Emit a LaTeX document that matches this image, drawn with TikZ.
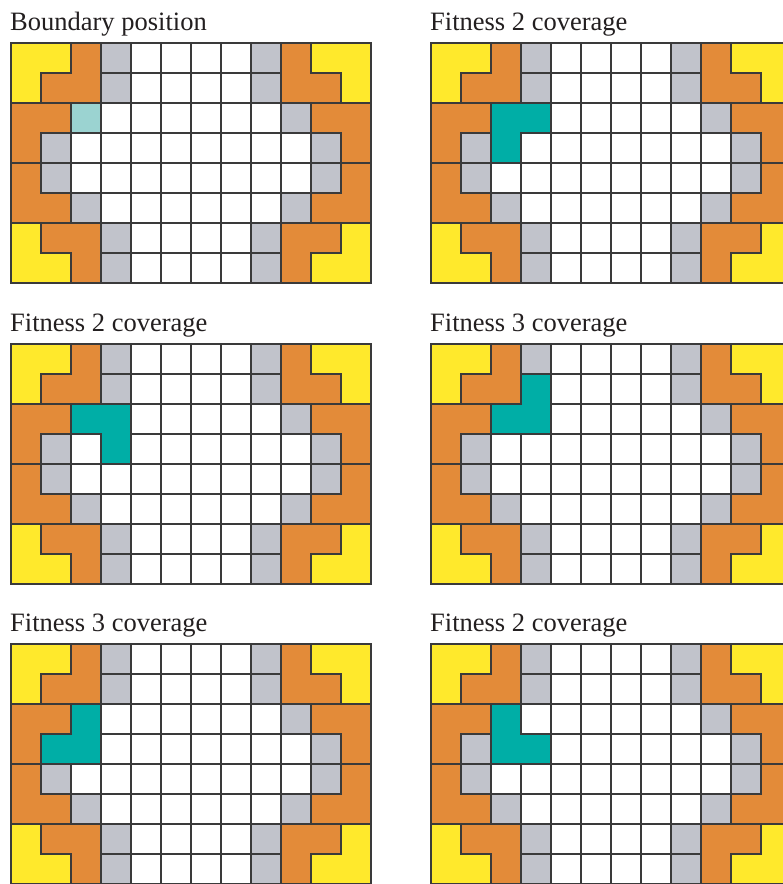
\documentclass[tikz,border=0pt]{standalone}
\usepackage{fontspec}
\setmainfont{Liberation Serif}
\definecolor{ylw}{HTML}{FFE92C}
\definecolor{org}{HTML}{E38B39}
\definecolor{gry}{HTML}{C1C3CB}
\definecolor{tel}{HTML}{00AEA6}
\definecolor{ltel}{HTML}{9BD3D1}
\definecolor{edge}{HTML}{3A3A3A}
\definecolor{ink}{HTML}{231F20}
\tikzset{
  cellline/.style={draw=edge, line width=1.2pt, line join=miter},
  whitecell/.style={cellline, fill=white},
  graycell/.style={cellline, fill=gry},
  yellowpiece/.style={cellline, fill=ylw},
  orangepiece/.style={cellline, fill=org},
  tealpiece/.style={cellline, fill=tel},
  lighttealcell/.style={cellline, fill=ltel},
  paneltitle/.style={anchor=base west, inner sep=0pt, text=ink, font=\fontsize{26.5}{30}\selectfont},
  boardframe/.style={shift={#1}, x=30pt, y=-30pt}
}
\newcommand\drawboard{%
  \foreach \c in {0,...,11}{\foreach \r in {0,...,7}{\draw[whitecell] (\c,\r) rectangle ++(1,1);}}
  \foreach \c/\r in {3/0,3/1,8/0,8/1,9/2,1/3,10/3,1/4,10/4,2/5,9/5,3/6,3/7,8/6,8/7}{\draw[graycell] (\c,\r) rectangle ++(1,1);}
  % corner yellow pieces
  \draw[yellowpiece] (0,0) -- (2,0) -- (2,1) -- (1,1) -- (1,2) -- (0,2) -- cycle;
  \draw[yellowpiece] (10,0) -- (12,0) -- (12,2) -- (11,2) -- (11,1) -- (10,1) -- cycle;
  \draw[yellowpiece] (0,6) -- (1,6) -- (1,7) -- (2,7) -- (2,8) -- (0,8) -- cycle;
  \draw[yellowpiece] (11,6) -- (12,6) -- (12,8) -- (10,8) -- (10,7) -- (11,7) -- cycle;
  % orange pieces
  \draw[orangepiece] (2,0) -- (3,0) -- (3,2) -- (1,2) -- (1,1) -- (2,1) -- cycle;
  \draw[orangepiece] (9,0) -- (10,0) -- (10,1) -- (11,1) -- (11,2) -- (9,2) -- cycle;
  \draw[orangepiece] (0,2) -- (2,2) -- (2,3) -- (1,3) -- (1,4) -- (0,4) -- cycle;
  \draw[orangepiece] (10,2) -- (12,2) -- (12,4) -- (11,4) -- (11,3) -- (10,3) -- cycle;
  \draw[orangepiece] (0,4) -- (1,4) -- (1,5) -- (2,5) -- (2,6) -- (0,6) -- cycle;
  \draw[orangepiece] (11,4) -- (12,4) -- (12,6) -- (10,6) -- (10,5) -- (11,5) -- cycle;
  \draw[orangepiece] (1,6) -- (3,6) -- (3,8) -- (2,8) -- (2,7) -- (1,7) -- cycle;
  \draw[orangepiece] (9,6) -- (11,6) -- (11,7) -- (10,7) -- (10,8) -- (9,8) -- cycle;
}
\begin{document}
\begin{tikzpicture}
  \useasboundingbox (0,0) rectangle (783pt,-884pt);
  \clip (0,0) rectangle (783pt,-884pt);
  \fill[white] (0,0) rectangle (783pt,-884pt);

  % titles
  \node[paneltitle] (t1) at (10pt,-30pt) {Boundary position};
  \node[paneltitle] (t2) at (430pt,-30pt) {Fitness 2 coverage};
  \node[paneltitle] (t3) at (10pt,-331pt) {Fitness 2 coverage};
  \node[paneltitle] (t4) at (430pt,-331pt) {Fitness 3 coverage};
  \node[paneltitle] (t5) at (10pt,-631pt) {Fitness 3 coverage};
  \node[paneltitle] (t6) at (430pt,-631pt) {Fitness 2 coverage};

  % panel 1
  \begin{scope}[boardframe={(11pt,-43pt)}]
    \drawboard
    \draw[lighttealcell] (2,2) rectangle (3,3);
  \end{scope}
  % panel 2
  \begin{scope}[boardframe={(431pt,-43pt)}]
    \drawboard
    \draw[tealpiece] (2,2) -- (4,2) -- (4,3) -- (3,3) -- (3,4) -- (2,4) -- cycle;
  \end{scope}
  % panel 3
  \begin{scope}[boardframe={(11pt,-344pt)}]
    \drawboard
    \draw[tealpiece] (2,2) -- (4,2) -- (4,4) -- (3,4) -- (3,3) -- (2,3) -- cycle;
  \end{scope}
  % panel 4
  \begin{scope}[boardframe={(431pt,-344pt)}]
    \drawboard
    \draw[tealpiece] (3,1) -- (4,1) -- (4,3) -- (2,3) -- (2,2) -- (3,2) -- cycle;
  \end{scope}
  % panel 5
  \begin{scope}[boardframe={(11pt,-644pt)}]
    \drawboard
    \draw[tealpiece] (2,2) -- (3,2) -- (3,4) -- (1,4) -- (1,3) -- (2,3) -- cycle;
  \end{scope}
  % panel 6
  \begin{scope}[boardframe={(431pt,-644pt)}]
    \drawboard
    \draw[tealpiece] (2,2) -- (3,2) -- (3,3) -- (4,3) -- (4,4) -- (2,4) -- cycle;
  \end{scope}
\end{tikzpicture}
\end{document}
